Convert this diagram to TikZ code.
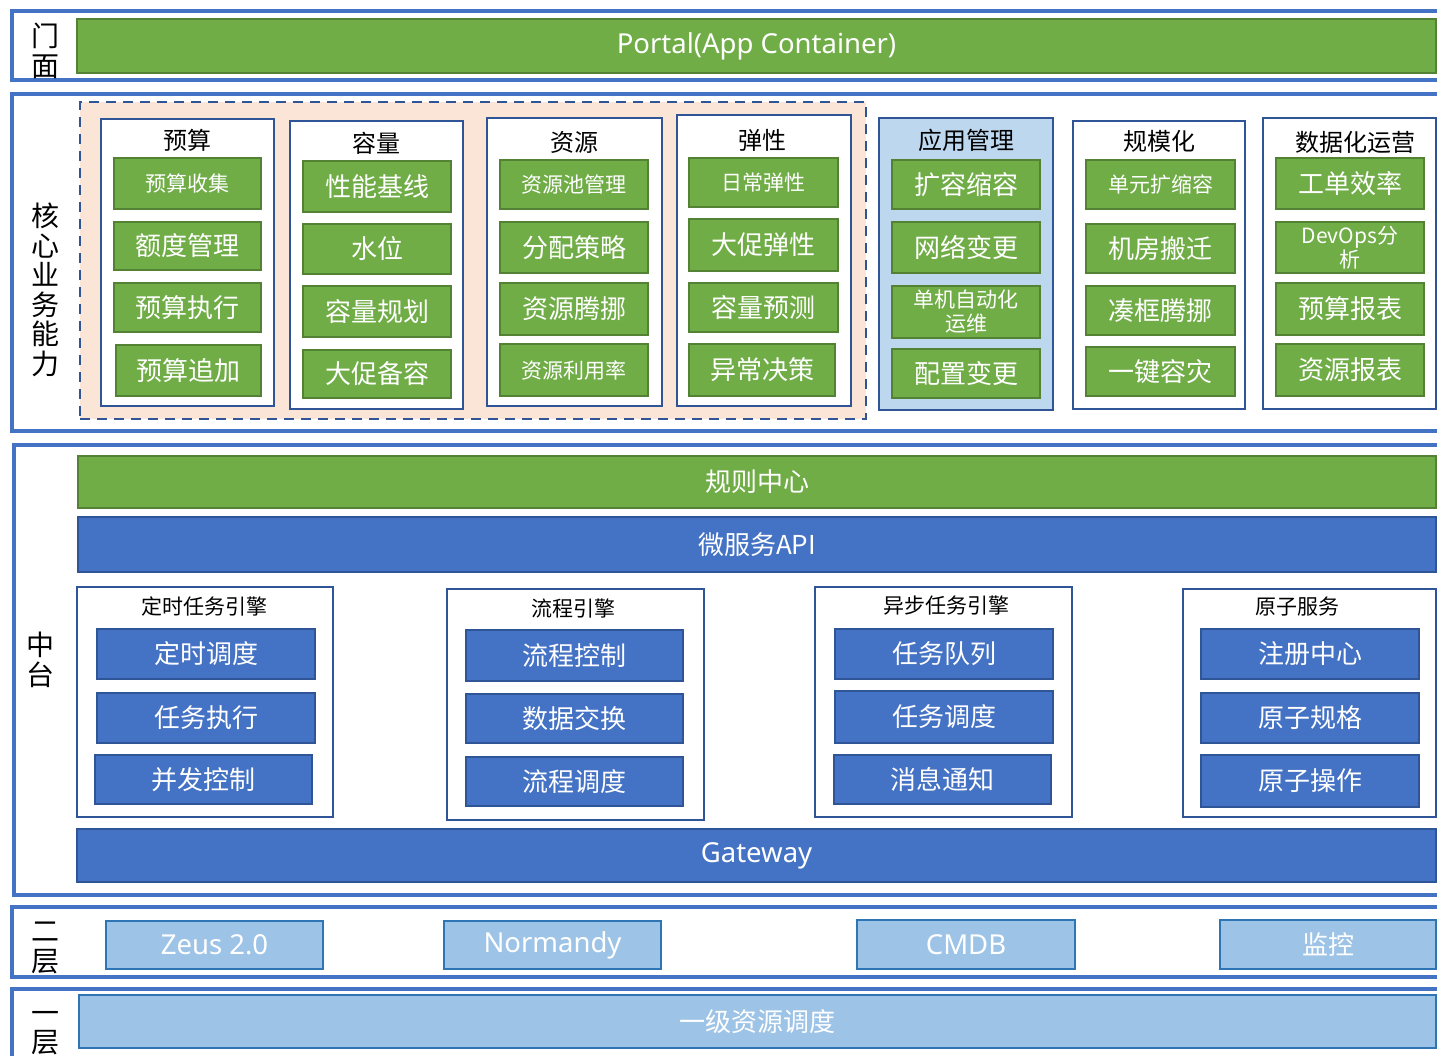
\documentclass[tikz,border=0pt]{standalone}
\usepackage{fontspec}
\setmainfont{Noto Sans CJK SC}
\newfontfamily\latinf{Noto Sans}
\definecolor{frameblue}{HTML}{4472C4}
\definecolor{gfill}{HTML}{70AD47}
\definecolor{gline}{HTML}{548235}
\definecolor{bfill}{HTML}{4472C4}
\definecolor{bline}{HTML}{2F5597}
\definecolor{lbfill}{HTML}{9DC3E6}
\definecolor{lbline}{HTML}{2E75B6}
\definecolor{peach}{HTML}{FBE5D6}
\definecolor{appfill}{HTML}{BDD7EE}
\newcommand\mkbox[7]{\node[#2, minimum width={(#5-#3)*1pt}, minimum height={(#6-#4)*1pt}] (#1) at ({(#3+#5)/2},{(#4+#6)/2}) {#7};}
\tikzset{
  base/.style={inner sep=0pt, outer sep=0pt, align=center},
  frame/.style={base, draw=frameblue, line width=4.5pt},
  gitem/.style={base, draw=gline, fill=gfill, line width=2.5pt, text=white, font=\fontsize{26}{28}\selectfont},
  gsmall/.style={gitem, font=\fontsize{21}{24}\selectfont},
  bitem/.style={base, draw=bline, fill=bfill, line width=2.5pt, text=white, font=\fontsize{26}{28}\selectfont},
  lbitem/.style={base, draw=lbline, fill=lbfill, line width=2pt, text=white, font=\fontsize{26}{28}\selectfont},
  latintext/.style={font=\latinf\fontsize{27.5}{30}\selectfont},
  grp/.style={base, draw=bline, fill=white, line width=2.5pt},
  appgrp/.style={grp, fill=appfill},
  dashzone/.style={base, draw=bline, fill=peach, line width=2.5pt, dash pattern=on 10pt off 7pt},
  gtitle/.style={base, text=black, font=\fontsize{24}{26}\selectfont},
  etitle/.style={base, text=black, font=\fontsize{21}{23}\selectfont},
  side/.style={base, text=black, font=\fontsize{28}{29.5}\selectfont},
}
\begin{document}
\begin{tikzpicture}[x=1pt,y=-1pt]
\useasboundingbox (0,0) rectangle (1437,1055);
\clip (0,0) rectangle (1437,1055);
% layer frames
\mkbox{fPortal}{frame}{12}{11}{1470}{80}{}
\mkbox{fCore}{frame}{12}{94}{1470}{431}{}
\mkbox{fMid}{frame}{14}{445}{1470}{895}{}
\mkbox{fL2}{frame}{12}{907}{1470}{977}{}
\mkbox{fL1}{frame}{12}{989}{1470}{1090}{}
% side labels
\node[side] (sPortal) at (45,51) {门\\面};
\node[side] (sCore) at (45,290) {核\\心\\业\\务\\能\\力};
\node[side] (sMid) at (40,660) {中\\台};
\node[side] (sL2) at (45,948) {二\\层};
\node[side] (sL1) at (45,1033) {一\\层};
% portal
\mkbox{portal}{gitem, latintext}{77}{19}{1436}{73}{Portal(App Container)}
% core
\mkbox{zone}{dashzone}{80}{102}{866}{419}{}
% 预算
\mkbox{gA}{grp}{101}{119}{274}{406}{}
\node[gtitle] (tA) at (187,140) {预算};
\mkbox{a1}{gsmall}{114}{158}{261}{209}{预算收集}
\mkbox{a2}{gitem}{114}{222}{261}{270}{额度管理}
\mkbox{a3}{gitem}{114}{283}{261}{332}{预算执行}
\mkbox{a4}{gitem}{116}{345}{261}{396}{预算追加}
% 容量
\mkbox{gB}{grp}{290}{121}{463}{409}{}
\node[gtitle] (tB) at (376,143) {容量};
\mkbox{b1}{gitem}{303}{161}{451}{212}{性能基线}
\mkbox{b2}{gitem}{303}{224}{451}{274}{水位}
\mkbox{b3}{gitem}{303}{286}{451}{337}{容量规划}
\mkbox{b4}{gitem}{303}{350}{451}{398}{大促备容}
% 资源
\mkbox{gC}{grp}{487}{118}{662}{406}{}
\node[gtitle] (tC) at (574,142) {资源};
\mkbox{c1}{gsmall}{500}{160}{648}{209}{资源池管理}
\mkbox{c2}{gitem}{500}{222}{648}{273}{分配策略}
\mkbox{c3}{gitem}{500}{283}{648}{335}{资源腾挪}
\mkbox{c4}{gsmall}{500}{344}{648}{396}{资源利用率}
% 弹性
\mkbox{gD}{grp}{677}{115}{851}{406}{}
\node[gtitle] (tD) at (762,140) {弹性};
\mkbox{d1}{gsmall}{689}{158}{838}{207}{日常弹性}
\mkbox{d2}{gitem}{689}{219}{838}{271}{大促弹性}
\mkbox{d3}{gitem}{689}{283}{838}{332}{容量预测}
\mkbox{d4}{gitem}{689}{344}{835}{396}{异常决策}
% 应用管理
\mkbox{gE}{appgrp}{879}{118}{1053}{410}{}
\node[gtitle] (tE) at (966,140) {应用管理};
\mkbox{e1}{gitem}{892}{160}{1040}{209}{扩容缩容}
\mkbox{e2}{gitem}{892}{222}{1040}{273}{网络变更}
\mkbox{e3}{gsmall}{892}{286}{1040}{338}{单机自动化\\运维}
\mkbox{e4}{gitem}{892}{349}{1040}{398}{配置变更}
% 规模化
\mkbox{gF}{grp}{1073}{121}{1245}{409}{}
\node[gtitle] (tF) at (1159,141) {规模化};
\mkbox{f1}{gsmall}{1086}{160}{1235}{209}{单元扩缩容}
\mkbox{f2}{gitem}{1086}{224}{1235}{273}{机房搬迁}
\mkbox{f3}{gitem}{1086}{286}{1235}{335}{凑框腾挪}
\mkbox{f4}{gitem}{1086}{347}{1235}{396}{一键容灾}
% 数据化运营
\mkbox{gG}{grp}{1263}{118}{1436}{409}{}
\node[gtitle] (tG) at (1355,142) {数据化运营};
\mkbox{g1}{gitem}{1276}{158}{1424}{209}{工单效率}
\mkbox{g2}{gsmall}{1276}{222}{1424}{273}{DevOps分\\析}
\mkbox{g3}{gitem}{1276}{283}{1424}{335}{预算报表}
\mkbox{g4}{gitem}{1276}{344}{1424}{396}{资源报表}
% middle platform
\mkbox{rules}{gitem}{78}{456}{1436}{508}{规则中心}
\mkbox{api}{bitem}{78}{517}{1436}{572}{微服务API}
% 定时任务引擎
\mkbox{gH}{grp}{77}{587}{333}{817}{}
\node[etitle] (tH) at (204,606) {定时任务引擎};
\mkbox{h1}{bitem}{97}{629}{315}{679}{定时调度}
\mkbox{h2}{bitem}{97}{693}{315}{743}{任务执行}
\mkbox{h3}{bitem}{95}{755}{312}{804}{并发控制}
% 流程引擎
\mkbox{gI}{grp}{447}{589}{704}{820}{}
\node[etitle] (tI) at (573,608) {流程引擎};
\mkbox{i1}{bitem}{466}{630}{683}{681}{流程控制}
\mkbox{i2}{bitem}{466}{694}{683}{743}{数据交换}
\mkbox{i3}{bitem}{466}{757}{683}{806}{流程调度}
% 异步任务引擎
\mkbox{gJ}{grp}{815}{587}{1072}{817}{}
\node[etitle] (tJ) at (946,606) {异步任务引擎};
\mkbox{j1}{bitem}{835}{629}{1053}{679}{任务队列}
\mkbox{j2}{bitem}{835}{691}{1053}{743}{任务调度}
\mkbox{j3}{bitem}{834}{755}{1051}{804}{消息通知}
% 原子服务
\mkbox{gK}{grp}{1183}{589}{1436}{817}{}
\node[etitle] (tK) at (1297,607) {原子服务};
\mkbox{k1}{bitem}{1201}{629}{1419}{679}{注册中心}
\mkbox{k2}{bitem}{1201}{693}{1419}{743}{原子规格}
\mkbox{k3}{bitem}{1201}{755}{1419}{807}{原子操作}
% gateway
\mkbox{gw}{bitem, latintext}{77}{829}{1436}{882}{Gateway}
% layer 2
\mkbox{zeus}{lbitem, latintext}{106}{921}{323}{969}{Zeus 2.0}
\mkbox{norm}{lbitem, latintext}{444}{921}{661}{969}{Normandy}
\mkbox{cmdb}{lbitem, latintext}{857}{920}{1075}{969}{CMDB}
\mkbox{mon}{lbitem}{1220}{920}{1436}{969}{监控}
% layer 1
\mkbox{sched}{lbitem}{79}{995}{1436}{1048}{一级资源调度}
\end{tikzpicture}
\end{document}
